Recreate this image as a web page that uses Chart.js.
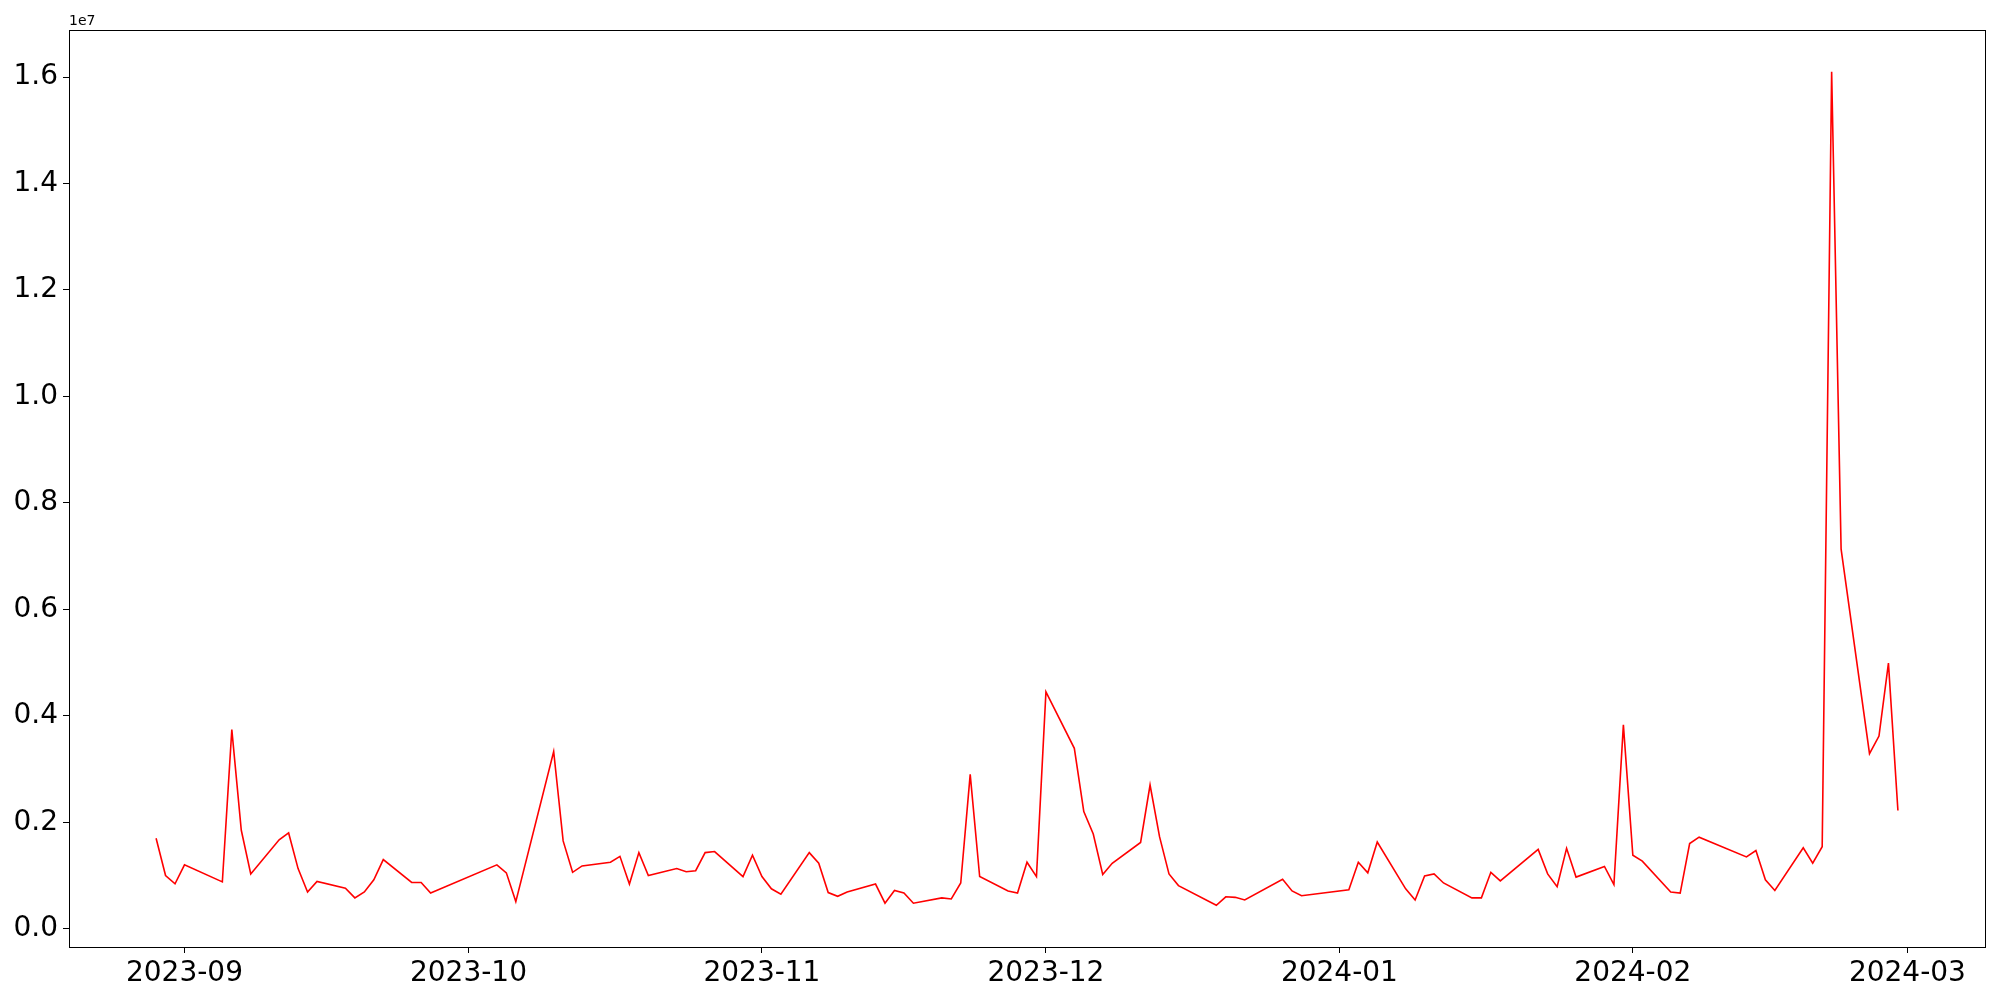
<!DOCTYPE html>
<html><head><meta charset="utf-8">
<script src="https://cdn.jsdelivr.net/npm/chart.js@4/dist/chart.umd.min.js"></script>
<style>html,body{margin:0;padding:0;background:#fff}#wrap{width:2000px;height:1000px}</style>
</head><body><div id="wrap"><canvas id="c" width="2000" height="1000"></canvas></div>
<script>
const dates = [
'2023-08-29','2023-08-30','2023-08-31','2023-09-01','2023-09-05','2023-09-06','2023-09-07','2023-09-08',
'2023-09-11','2023-09-12','2023-09-13','2023-09-14','2023-09-15','2023-09-18','2023-09-19','2023-09-20',
'2023-09-21','2023-09-22','2023-09-25','2023-09-26','2023-09-27','2023-10-04','2023-10-05','2023-10-06',
'2023-10-10','2023-10-11','2023-10-12','2023-10-13','2023-10-16','2023-10-17','2023-10-18','2023-10-19',
'2023-10-20','2023-10-23','2023-10-24','2023-10-25','2023-10-26','2023-10-27','2023-10-30','2023-10-31',
'2023-11-01','2023-11-02','2023-11-03','2023-11-06','2023-11-07','2023-11-08','2023-11-09','2023-11-10',
'2023-11-13','2023-11-14','2023-11-15','2023-11-16','2023-11-17','2023-11-20','2023-11-21','2023-11-22',
'2023-11-23','2023-11-24','2023-11-27','2023-11-28','2023-11-29','2023-11-30','2023-12-01','2023-12-04',
'2023-12-05','2023-12-06','2023-12-07','2023-12-08','2023-12-11','2023-12-12','2023-12-13','2023-12-14',
'2023-12-15','2023-12-19','2023-12-20','2023-12-21','2023-12-22','2023-12-26','2023-12-27','2023-12-28',
'2024-01-02','2024-01-03','2024-01-04','2024-01-05','2024-01-08','2024-01-09','2024-01-10','2024-01-11',
'2024-01-12','2024-01-15','2024-01-16','2024-01-17','2024-01-18','2024-01-22','2024-01-23','2024-01-24',
'2024-01-25','2024-01-26','2024-01-29','2024-01-30','2024-01-31','2024-02-01','2024-02-02','2024-02-05',
'2024-02-06','2024-02-07','2024-02-08','2024-02-13','2024-02-14','2024-02-15','2024-02-16','2024-02-19',
'2024-02-20','2024-02-21','2024-02-22','2024-02-23','2024-02-26','2024-02-27','2024-02-28','2024-02-29'
];
const values = [
1700000, 1000000, 845000, 1200000, 880000, 3740000, 1850000, 1030000,
1670000, 1800000, 1130000, 690000, 890000, 760000, 580000, 690000,
920000, 1300000, 870000, 870000, 670000, 1200000, 1050000, 510000,
3330000, 1650000, 1060000, 1180000, 1250000, 1360000, 840000, 1430000,
1000000, 1130000, 1070000, 1090000, 1430000, 1450000, 980000, 1380000,
980000, 750000, 650000, 1430000, 1230000, 680000, 610000, 690000,
840000, 480000, 720000, 670000, 480000, 580000, 560000, 860000,
2900000, 980000, 710000, 670000, 1250000, 980000, 4450000, 3390000,
2200000, 1780000, 1020000, 1230000, 1620000, 2700000, 1730000, 1030000,
810000, 440000, 600000, 590000, 540000, 930000, 710000, 620000,
730000, 1250000, 1050000, 1630000, 750000, 540000, 990000, 1030000,
860000, 580000, 580000, 1060000, 900000, 1490000, 1030000, 790000,
1510000, 970000, 1170000, 830000, 3830000, 1380000, 1270000, 690000,
670000, 1600000, 1720000, 1350000, 1470000, 920000, 720000, 1520000,
1230000, 1540000, 16100000, 7130000, 3290000, 3620000, 4990000, 2220000
];
const xTickLabels = ['2023-09','2023-10','2023-11','2023-12','2024-01','2024-02','2024-03'];
const yTickValues = [0, 2000000, 4000000, 6000000, 8000000, 10000000, 12000000, 14000000, 16000000];
const yExponentLabel = '1e7';

const DAY = 86400000;
function toDay(s){ const p = s.split('-').map(Number); return Date.UTC(p[0], p[1]-1, p[2] || 1) / DAY; }
const xs = dates.map(toDay);
const points = xs.map((x, i) => ({x: x, y: values[i]}));
const xLo = Math.min(...xs), xHi = Math.max(...xs), xPad = 0.05 * (xHi - xLo);
const yLo = Math.min(...values), yHi = Math.max(...values), yPad = 0.05 * (yHi - yLo);
const xTickDays = xTickLabels.map(toDay);

const FONT = "'DejaVu Sans', sans-serif";

const framePlugin = {
  id: 'frame',
  afterDraw(chart) {
    const {ctx, chartArea: a} = chart;
    ctx.save();
    ctx.strokeStyle = '#000';
    ctx.lineWidth = 1;
    ctx.strokeRect(Math.round(a.left) + 0.5, Math.round(a.top) + 0.5, Math.round(a.right - a.left), Math.round(a.bottom - a.top));
    ctx.fillStyle = '#000';
    ctx.font = "14px " + FONT;
    ctx.textAlign = 'left';
    ctx.textBaseline = 'bottom';
    ctx.fillText(yExponentLabel, a.left, a.top - 2);
    ctx.restore();
  }
};

new Chart(document.getElementById('c'), {
  type: 'line',
  data: { datasets: [{
    data: points,
    borderColor: '#ff0000',
    borderWidth: 1.6,
    pointRadius: 0,
    tension: 0,
    fill: false
  }]},
  options: {
    responsive: false,
    animation: false,
    devicePixelRatio: 1,
    parsing: false,
    normalized: true,
    layout: { padding: { left: 0, right: 15, top: 30, bottom: 0 } },
    plugins: { legend: { display: false }, tooltip: { enabled: false } },
    scales: {
      x: {
        type: 'linear',
        min: xLo - xPad,
        max: xHi + xPad,
        afterBuildTicks: s => { s.ticks = xTickDays.map(v => ({value: v})); },
        afterFit: s => { s.height = 53; },
        grid: { display: true, drawOnChartArea: false, drawTicks: true, tickLength: 6, color: '#000', tickColor: '#000' },
        border: { display: true, color: '#000', width: 1 },
        ticks: {
          autoSkip: false, maxRotation: 0, minRotation: 0, padding: 4,
          color: '#000', font: { family: FONT, size: 28 },
          callback: v => { const i = xTickDays.indexOf(v); return i >= 0 ? xTickLabels[i] : ''; }
        }
      },
      y: {
        type: 'linear',
        min: yLo - yPad,
        max: yHi + yPad,
        afterBuildTicks: s => { s.ticks = yTickValues.map(v => ({value: v})); },
        afterFit: s => { s.width = 69; },
        grid: { display: true, drawOnChartArea: false, drawTicks: true, tickLength: 6, color: '#000', tickColor: '#000' },
        border: { display: true, color: '#000', width: 1 },
        ticks: {
          autoSkip: false, padding: 5,
          color: '#000', font: { family: FONT, size: 28 },
          callback: v => (v / 1e7).toFixed(1)
        }
      }
    }
  },
  plugins: [framePlugin]
});
</script></body></html>
